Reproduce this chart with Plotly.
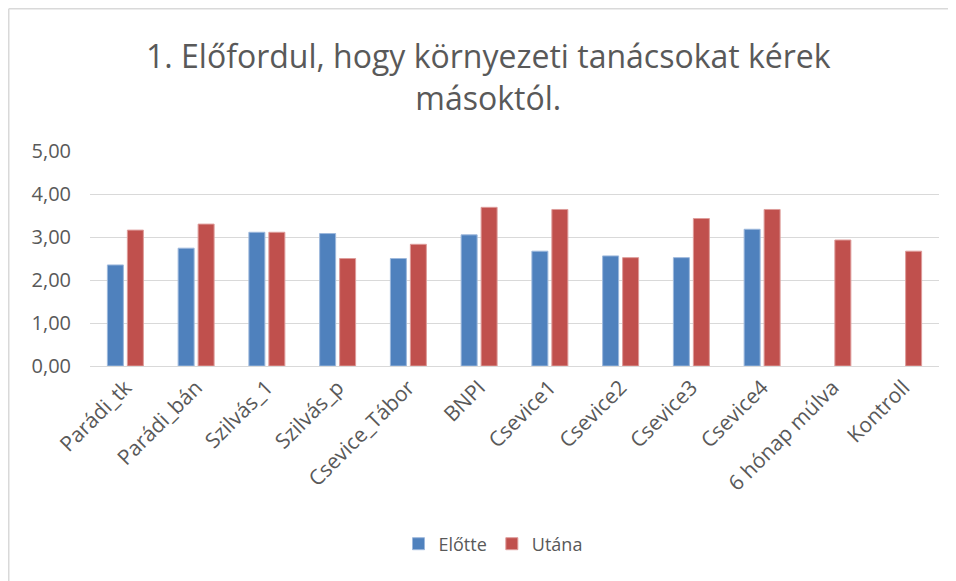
import plotly.graph_objects as go

categories = ["Parádi_tk", "Parádi_bán", "Szilvás_1", "Szilvás_p", "Csevice_Tábor", "BNPI",
              "Csevice1", "Csevice2", "Csevice3", "Csevice4", "6 hónap múlva", "Kontroll"]
elotte = [2.35, 2.74, 3.11, 3.08, 2.50, 3.05, 2.67, 2.56, 2.52, 3.18, None, None]
utana = [3.16, 3.30, 3.11, 2.50, 2.83, 3.69, 3.64, 2.52, 3.43, 3.64, 2.93, 2.67]
tick_vals = [0, 1, 2, 3, 4, 5]
title_text = "1. Előfordul, hogy környezeti tanácsokat kérek<br>másoktól."

font_family = "Open Sans, Noto Sans, sans-serif"
text_color = "#595959"

# page body has an 8px margin, so the figure is offset by (8, 8)
W, H = 948, 573
L, R, T, B = 82, 17, 143, 215
PW, PH = W - L - R, H - T - B

fig = go.Figure()
fig.add_trace(go.Bar(name="Előtte", x=categories, y=elotte, marker=dict(color="#4F81BD", line=dict(color="#9DB8DC", width=1))))
fig.add_trace(go.Bar(name="Utána", x=categories, y=utana, marker=dict(color="#C0504D", line=dict(color="#DE9C9A", width=1))))

fig.update_layout(
    width=W, height=H,
    margin=dict(l=L, r=R, t=T, b=B, autoexpand=False),
    paper_bgcolor="white", plot_bgcolor="white",
    barmode="group", bargap=0.435, bargroupgap=0.2,
    separators=", ",
    font=dict(family=font_family, color=text_color),
    xaxis=dict(tickangle=-45, tickfont=dict(size=21, color=text_color), showline=True,
               linecolor="#D9D9D9", linewidth=1, ticks="", automargin=False),
    yaxis=dict(range=[0, 5], tickvals=tick_vals, tickformat=".2f", showgrid=True,
               gridcolor="#D9D9D9", gridwidth=1, zeroline=False, ticks="",
               tickfont=dict(size=20, color=text_color), automargin=False,
               ticklabelstandoff=18),
    legend=dict(orientation="h", x=(493 - 90) / PW, xanchor="center",
                y=(366 - 544) / PH, yanchor="middle",
                font=dict(size=18, color=text_color), traceorder="normal"),
    showlegend=True,
)
fig.add_annotation(text=title_text, xref="paper", yref="paper",
                   x=(488 - 90) / PW, y=(366 - 76.5) / PH, xanchor="center", yanchor="middle",
                   showarrow=False, align="center",
                   font=dict(family=font_family, size=32, color=text_color))
# chart border (left and top edges visible), at the figure's own edge
bx = (0.75 - L) / PW
by = (366 - 8.75) / PH
fig.add_shape(type="line", xref="paper", yref="paper",
              x0=bx, x1=bx, y0=by, y1=(366 - 600) / PH,
              line=dict(color="#D9D9D9", width=1.5))
fig.add_shape(type="line", xref="paper", yref="paper",
              x0=bx, x1=(1000 - 90) / PW, y0=by, y1=by,
              line=dict(color="#D9D9D9", width=1.5))

fig.write_html("out.html")
